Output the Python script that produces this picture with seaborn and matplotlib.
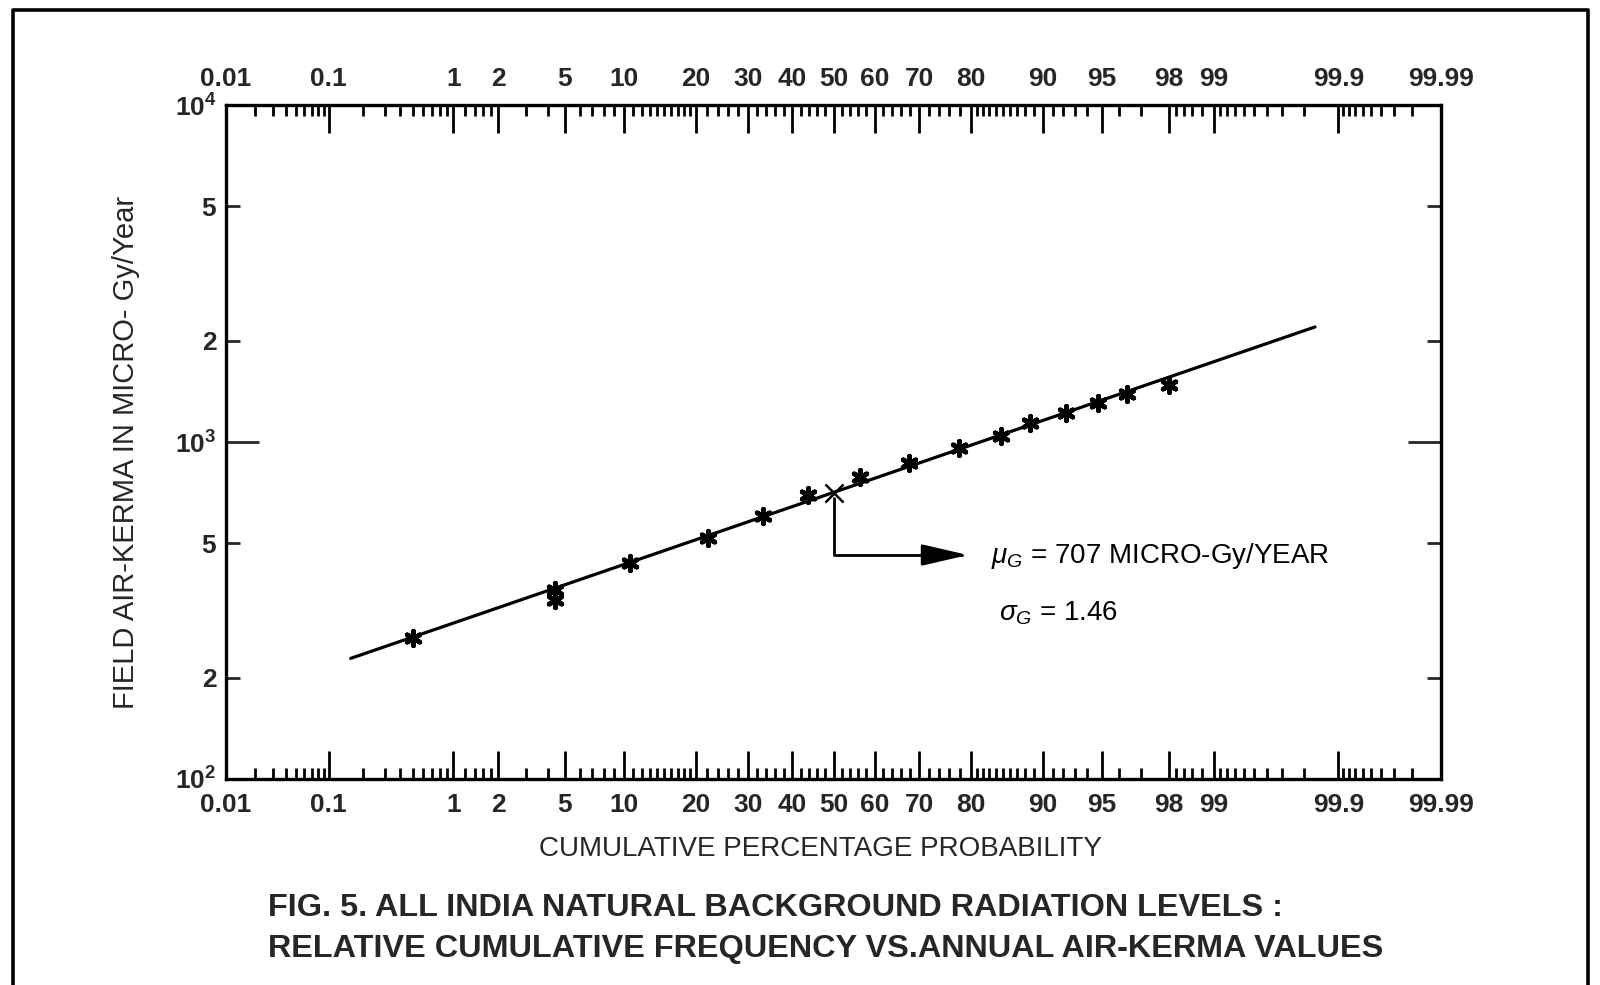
import numpy as np
import matplotlib
matplotlib.use("Agg")
import matplotlib.pyplot as plt
import seaborn as sns
from statistics import NormalDist
from matplotlib.ticker import FixedLocator, FixedFormatter
from matplotlib.lines import Line2D

# ---------------- data ----------------
cum_pct = [0.5, 4.4, 4.4, 10.6, 22.1, 33.3, 43.7, 56.4, 67.8, 77.9, 84.8,
           88.5, 92.3, 94.7, 96.4, 98.0]
kerma = [262, 364, 340, 436, 519, 605, 695, 789, 869, 959, 1042,
         1135, 1216, 1303, 1387, 1479]

fit_pct = [0.156, 99.84]
fit_kerma = [228, 2195]

mu_pct = [50.0]
mu_kerma = [707]
arrow_end_pct = 79.5
arrow_end_kerma = 462

x_tick_vals = [0.01, 0.1, 1, 2, 5, 10, 20, 30, 40, 50, 60, 70, 80, 90, 95,
               98, 99, 99.9, 99.99]
x_tick_labels = ["0.01", "0.1", "1", "2", "5", "10", "20", "30", "40", "50",
                 "60", "70", "80", "90", "95", "98", "99", "99.9", "99.99"]
y_major_vals = [100, 1000, 10000]
y_major_labels = [r"$\mathbf{10^{2}}$", r"$\mathbf{10^{3}}$", r"$\mathbf{10^{4}}$"]
y_minor_vals = [200, 500, 2000, 5000]
y_minor_labels = ["2", "5", "2", "5"]

# ---------------- style ----------------
sns.set_style("ticks")
plt.rcParams["font.family"] = ["Liberation Sans", "DejaVu Sans"]
plt.rcParams["mathtext.fontset"] = "custom"
plt.rcParams["mathtext.rm"] = "Liberation Sans"
plt.rcParams["mathtext.it"] = "Liberation Sans:italic"
plt.rcParams["mathtext.bf"] = "Liberation Sans:bold"

_nd = NormalDist()


def p_to_z(p):
    p = np.asarray(p, dtype=float)
    q = np.clip(p / 100.0, 1e-9, 1 - 1e-9)
    return np.vectorize(_nd.inv_cdf, otypes=[float])(q)


def z_to_p(z):
    z = np.asarray(z, dtype=float)
    return np.vectorize(_nd.cdf, otypes=[float])(z) * 100.0


fig = plt.figure(figsize=(16, 9.85), dpi=100)
ax = fig.add_axes([226 / 1600, 1 - 779 / 985, (1441 - 226) / 1600, (779 - 105) / 985])

ax.set_xscale("function", functions=(p_to_z, z_to_p))
ax.set_yscale("log")
ax.set_xlim(0.01, 99.99)
ax.set_ylim(100, 10000)

# fitted line
sns.lineplot(x=fit_pct, y=fit_kerma, ax=ax, color="black", linewidth=2.3,
             sort=False, legend=False)
# data points
sns.scatterplot(x=cum_pct, y=kerma, ax=ax, marker=(6, 2, 0), s=110,
                color="black", linewidth=3.4, legend=False, zorder=3)
# geometric mean cross
sns.scatterplot(x=mu_pct, y=mu_kerma, ax=ax, marker="x", s=170,
                color="black", linewidth=1.8, legend=False, zorder=4)

ax.annotate("", xy=(arrow_end_pct, arrow_end_kerma), xytext=(mu_pct[0], mu_kerma[0]),
            arrowprops=dict(arrowstyle="-|>,head_length=1.3,head_width=0.3",
                            connectionstyle="angle,angleA=90,angleB=0,rad=0",
                            color="black", lw=2.0, shrinkA=4, shrinkB=0,
                            mutation_scale=22))

ax.text(83.3, 458, r"$\mu_{G}$ = 707 MICRO-Gy/YEAR", fontsize=20,
        va="center", ha="left", color="black")
ax.text(84.4, 310, r"$\sigma_{G}$ = 1.46", fontsize=20,
        va="center", ha="left", color="black")

# ---------------- ticks ----------------
minor_lo = ([0.02, 0.03, 0.04, 0.05, 0.06, 0.07, 0.08, 0.09,
             0.2, 0.3, 0.4, 0.5, 0.6, 0.7, 0.8, 0.9,
             1.2, 1.4, 1.6, 1.8, 3, 4, 6, 7, 8, 9,
             11, 12, 13, 14, 15, 16, 17, 18, 19,
             22, 24, 26, 28, 32, 34, 36, 38, 42, 44, 46, 48])
minor_ticks = sorted(set(minor_lo + [round(100 - v, 4) for v in minor_lo]))

ax.xaxis.set_major_locator(FixedLocator(x_tick_vals))
ax.xaxis.set_major_formatter(FixedFormatter(x_tick_labels))
ax.xaxis.set_minor_locator(FixedLocator(minor_ticks))
ax.yaxis.set_major_locator(FixedLocator(y_major_vals))
ax.yaxis.set_major_formatter(FixedFormatter(y_major_labels))
ax.yaxis.set_minor_locator(FixedLocator(y_minor_vals))
ax.yaxis.set_minor_formatter(FixedFormatter(y_minor_labels))

ax.tick_params(axis="x", which="both", direction="in", top=True, bottom=True,
               labeltop=True, labelbottom=True, width=2.0, color="black")
ax.tick_params(axis="x", which="major", length=20, pad=10, labelsize=19)
ax.tick_params(axis="x", which="minor", length=8)
ax.tick_params(axis="y", which="both", direction="in", left=True, right=True,
               labelleft=True, labelright=False, width=2.0, pad=7, labelsize=19)
ax.tick_params(axis="y", which="major", length=24)
ax.tick_params(axis="y", which="minor", length=10)
for lab in ax.get_xticklabels() + ax.get_yticklabels(which="both"):
    lab.set_fontweight("bold")
for lab in ax.xaxis.get_majorticklabels():
    lab.set_fontweight("bold")

for sp in ax.spines.values():
    sp.set_linewidth(2.4)
    sp.set_color("black")
    sp.set_visible(True)

ax.set_xlabel("CUMULATIVE PERCENTAGE PROBABILITY", fontsize=20)
ax.xaxis.set_label_coords((820 - 226) / 1215, (779 - 836) / 674)
ax.set_ylabel("FIELD AIR-KERMA IN MICRO- Gy/Year", fontsize=21)
ax.yaxis.set_label_coords((140 - 226) / 1215, 0.485)

# caption
fig.text(268 / 1600, 1 - 908 / 985,
         "FIG. 5. ALL INDIA NATURAL BACKGROUND RADIATION LEVELS :",
         fontsize=23.3, fontweight="bold", ha="left", va="center")
fig.text(268 / 1600, 1 - 949 / 985,
         "RELATIVE CUMULATIVE FREQUENCY VS.ANNUAL AIR-KERMA VALUES",
         fontsize=23.3, fontweight="bold", ha="left", va="center")

# outer frame of the scanned page
xl, xr, yt = 13 / 1600, 1588 / 1600, 1 - 10 / 985
fig.add_artist(Line2D([xl, xl, xr, xr], [0, yt, yt, 0], transform=fig.transFigure,
                      color="black", linewidth=2.6))

fig.savefig("out.png", dpi=100)
